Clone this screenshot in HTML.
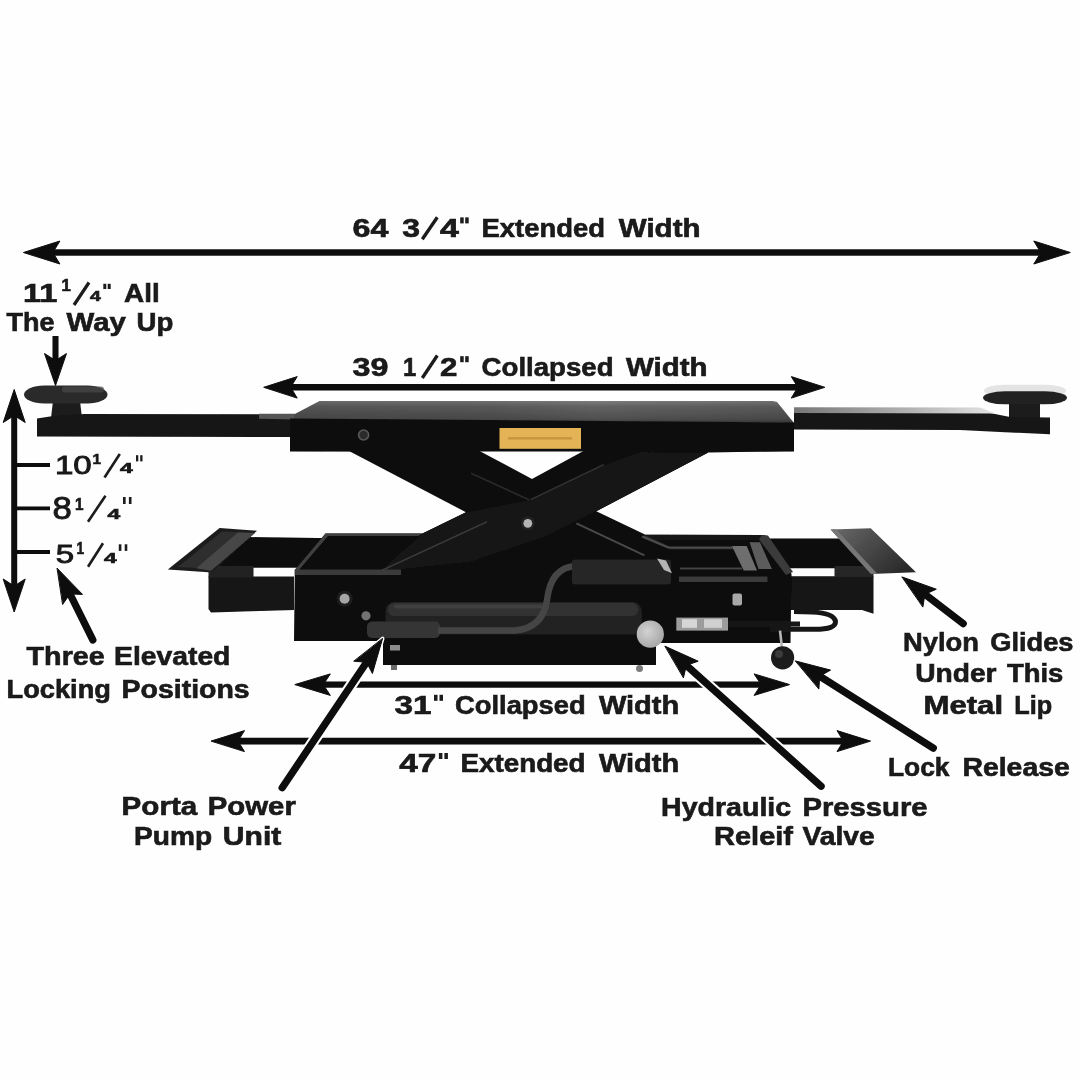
<!DOCTYPE html>
<html><head><meta charset="utf-8"><title>Rolling Jack Dimensions</title>
<style>
html,body{margin:0;padding:0;background:#fefefe;}
body{width:1080px;height:1080px;overflow:hidden;font-family:"Liberation Sans",sans-serif;}
svg{display:block}
svg text{font-family:"Liberation Sans",sans-serif;fill:#1a1a1a;stroke:#1a1a1a;}
svg text.b{font-weight:bold;stroke-width:0.65px;}
svg text.n{font-weight:normal;stroke-width:0.9px;}
</style></head><body>
<svg width="1080" height="1080" viewBox="0 0 1080 1080">
<defs>
<linearGradient id="ptop" x1="0" x2="0" y1="0" y2="1"><stop offset="0" stop-color="#7c7c7c"/><stop offset="0.25" stop-color="#626262"/><stop offset="0.8" stop-color="#505050"/><stop offset="1" stop-color="#3c3c3c"/></linearGradient><linearGradient id="ptoph" x1="0" x2="1" y1="0" y2="0"><stop offset="0" stop-color="#000" stop-opacity="0.14"/><stop offset="0.4" stop-color="#000" stop-opacity="0.1"/><stop offset="0.6" stop-color="#000" stop-opacity="0"/><stop offset="1" stop-color="#000" stop-opacity="0.1"/></linearGradient>
<linearGradient id="armhi" x1="0" x2="1" y1="0" y2="0"><stop offset="0" stop-color="#777"/><stop offset="0.6" stop-color="#b5b5b5"/><stop offset="1" stop-color="#e5e5e5"/></linearGradient>
<radialGradient id="knob" cx="0.4" cy="0.4" r="0.7"><stop offset="0" stop-color="#d2d2d2"/><stop offset="1" stop-color="#a2a2a2"/></radialGradient>
<linearGradient id="glide" x1="0" x2="1" y1="0" y2="0.6"><stop offset="0" stop-color="#6a6a6a"/><stop offset="0.5" stop-color="#4a4a4a"/><stop offset="1" stop-color="#2c2c2c"/></linearGradient>
<filter id="soft" x="0" y="0" width="1080" height="1080" filterUnits="userSpaceOnUse"><feGaussianBlur stdDeviation="0.75"/></filter>
</defs>
<rect width="1080" height="1080" fill="#fefefe"/>
<g filter="url(#soft)">
<g id="jack">
<!-- left pad + arm -->
<polygon points="53,401 80,401 82,418 51,418" fill="#1b1b1b"/>
<rect x="24" y="385.5" width="83.5" height="18" rx="20" ry="9" fill="#2b2b2b"/>
<rect x="62" y="386.5" width="42" height="6" rx="3" fill="#4a4a4a" opacity="0.7"/>
<polygon points="37,418.5 50,416.5 84,414 290,414.3 290,437 37,436.5" fill="#151515"/>
<polygon points="259,413.8 295,413.8 295,419.5 259,418.7" fill="#555"/>
<!-- right pad + arm -->
<polygon points="1009,401 1040,401 1040,419 1009,419" fill="#1a1a1a"/>
<rect x="984" y="384.8" width="82" height="12" rx="20" ry="6" fill="#e4e4e4"/>
<rect x="983" y="391.3" width="84" height="13" rx="22" ry="6.5" fill="#232323"/>
<polygon points="794,412.5 990,413 1010,417 1050,417.6 1050,434.3 1000,432 960,430 794,429.6" fill="#161616"/>
<polygon points="794,407.3 980,407.6 996,413.5 794,413" fill="url(#armhi)"/>
<!-- left beams & glide -->
<polygon points="247,537 318,538 330,538 330,567.8 214,567.8" fill="#0b0b0b"/>
<polygon points="208.5,576.6 294,576.6 294,610 211,612.4 208.5,609" fill="#131313"/>
<rect x="208.5" y="566" width="45" height="11.5" fill="#242424"/>
<polygon points="167.8,569.6 219.6,528 257,530.7 212,572.5" fill="#1c1c1c"/>
<polygon points="178,567 222,531.5 238,532.3 196,568" fill="#2f2f2f"/>
<polygon points="238,532.3 255,533 211,570.8 196,568.3" fill="#474747"/>
<!-- right beams & glide -->
<polygon points="768,538.5 840,538.5 867,568.3 768,568.3" fill="#0b0b0b"/>
<polygon points="788,576.3 873.5,576.3 873.5,613.7 862,610 788,610" fill="#141414"/>
<rect x="834.5" y="566" width="39" height="11" fill="#262626"/>
<polygon points="830.6,529.4 870.7,528.2 916,572.2 871,574" fill="url(#glide)"/>
<polygon points="830.6,529.4 836,529.2 877,573.5 871,574" fill="#777"/>
<!-- central mass -->
<polygon points="289.5,451 349.5,451.2 466,512.2 422.5,533.5 325.5,533.5 294.8,570 294,641 383,641 383,665 656,665 656,643 790.5,643 791.5,574 765,535 645.5,534.7 596.3,511.3 708.3,452.6 794,451" fill="#0d0d0d"/>
<polygon points="479.5,451 532,479 583.5,451" fill="#fefefe"/>
<!-- front scissor arm slightly lighter -->
<polygon points="466,512.2 530.5,499.5 600,466.4 640,452 708.3,452.6 596.3,511.3 545,537 470,562 379,571.7 422.5,533.5" fill="#131313"/>
<line x1="379" y1="571.7" x2="487" y2="521.7" stroke="#3a3a3a" stroke-width="1.6"/>
<line x1="530.5" y1="499.7" x2="604" y2="464.5" stroke="#303030" stroke-width="1.6"/>
<line x1="471" y1="473.3" x2="529" y2="499.7" stroke="#2c2c2c" stroke-width="1.6"/>
<line x1="576.4" y1="523.3" x2="644.4" y2="555.3" stroke="#4a4a4a" stroke-width="2"/>
<polyline points="644,536 671,548.3 744,548.3" fill="none" stroke="#333" stroke-width="2"/>
<!-- platform -->
<polygon points="319.5,401 773,401 777,402 794,423 294,419.5 294.4,414.3" fill="url(#ptop)"/><polygon points="319.5,401 773,401 777,402 794,423 294,419.5 294.4,414.3" fill="url(#ptoph)"/>

<polygon points="290,418.6 794,422.5 794,451.5 290,451.5" fill="#0c0c0c"/>
<rect x="499.5" y="428" width="81.5" height="20.8" fill="#e4b357"/>
<rect x="508" y="437" width="64" height="2.6" fill="#c48e3a" opacity="0.8"/>
<!-- tray edges -->
<polygon points="325.5,533.5 422.5,533.5 418,536 328,536 298,571 294.8,570" fill="#404040"/>
<polygon points="294.8,569.6 401,569.6 401,575 294.8,575" fill="#3a3a3a"/>
<polygon points="645.5,534.7 765,535 762,539.5 654,539.5" fill="#191919"/><polygon points="762,535 768,535.5 793,572 786,575 759,539.5" fill="#3a3a3a"/>
<polyline points="642,536.5 668,547.4 732,547.4" fill="none" stroke="#4c4c4c" stroke-width="2"/>
<polygon points="731.9,546 746.7,546 757,570.4 743.7,570.4" fill="#6e6e6e"/>
<polygon points="749.6,542.2 760,542.2 771.9,568.9 758.5,568.9" fill="#5c5c5c"/>
<line x1="680" y1="568.5" x2="742" y2="568.5" stroke="#444" stroke-width="2"/><rect x="679" y="576.5" width="88.5" height="5.5" fill="#3a3a3a"/>
<!-- pump details -->
<rect x="385.6" y="602" width="256" height="32.5" rx="9" fill="#242424"/>
<rect x="388" y="603" width="250" height="13" rx="6" fill="#333333"/>
<rect x="394" y="604.5" width="150" height="4" rx="2" fill="#444" opacity="0.8"/>
<rect x="367" y="621.5" width="73" height="16.5" rx="5" fill="#353535"/>
<path d="M438,630.5 L515,630.5 Q543,628 547,600 Q551,567 576,566 L600,566" fill="none" stroke="#444" stroke-width="6.5"/>
<rect x="572" y="559.4" width="99" height="25" rx="3" fill="#262626"/>
<polygon points="657,558.5 666,560.5 672,573.3 664,570" fill="#b5b5b5"/>
<circle cx="650.3" cy="634.2" r="13.6" fill="url(#knob)"/>
<rect x="676.3" y="617.6" width="51.7" height="13" fill="#9c9c9c"/>
<rect x="682" y="619.2" width="15" height="8.6" fill="#d6d6d6"/>
<rect x="704" y="619.2" width="18" height="8.6" fill="#d0d0d0"/>
<path d="M728,624 L800,624" fill="none" stroke="#191919" stroke-width="5"/>
<path d="M794,611.5 L812,612 Q834,613 835.5,621.5 Q836,629.3 815,629.3 L770,629.3" fill="none" stroke="#191919" stroke-width="5"/>
<line x1="780" y1="630.6" x2="782" y2="648" stroke="#b5b5b5" stroke-width="2.6"/>
<circle cx="782.6" cy="657.8" r="11.6" fill="#1c1c1c"/>
<circle cx="779" cy="654" r="4" fill="#3a3a3a"/>
<!-- bolts -->
<circle cx="363.6" cy="435" r="5" fill="#2a2a2a" stroke="#5a5a5a" stroke-width="1.6"/>
<circle cx="527.8" cy="523.3" r="7" fill="#222"/>
<circle cx="527.8" cy="523.3" r="4.4" fill="#b5b5b5"/>
<circle cx="344.6" cy="598.7" r="8" fill="#1f1f1f"/>
<circle cx="344.6" cy="598.7" r="5" fill="#a5a5a5"/>
<circle cx="366" cy="615.8" r="4.6" fill="#737373"/>
<rect x="732.5" y="593.5" width="9.5" height="12" rx="2" fill="#a8a8a8"/>
<rect x="390" y="645" width="10" height="5.5" fill="#8d8d8d"/>
<rect x="391" y="665" width="6" height="5" fill="#6a6a6a"/>
<circle cx="639.5" cy="668.5" r="3.5" fill="#7a7a7a"/>
</g>

<g fill="#0c0c0c" stroke="#0c0c0c"><polygon points="23.4,252.5 59.9,241.0 52.9,252.5 59.9,264.0"/><line x1="51.9" y1="252.5" x2="1041.8" y2="252.5" stroke-width="6.4"/><polygon points="1070.3,252.5 1033.8,264.0 1040.8,252.5 1033.8,241.0"/><polygon points="263.7,387.3 297.2,376.6 290.7,387.3 297.2,398.1"/><line x1="289.7" y1="387.3" x2="798.8" y2="387.3" stroke-width="6.5"/><polygon points="824.8,387.3 791.3,398.1 797.8,387.3 791.3,376.6"/><polygon points="294.8,684.6 330.3,673.9 323.3,684.6 330.3,695.4"/><line x1="322.3" y1="684.6" x2="762.1" y2="684.6" stroke-width="6.2"/><polygon points="789.6,684.6 754.1,695.4 761.1,684.6 754.1,673.9"/><polygon points="211.0,741.1 244.5,730.6 238.0,741.1 244.5,751.6"/><line x1="237.0" y1="741.1" x2="844.5" y2="741.1" stroke-width="6.8"/><polygon points="870.5,741.1 837.0,751.6 843.5,741.1 837.0,730.6"/><polygon points="14.2,389.5 25.2,422.5 14.2,415.5 3.2,422.5"/><line x1="14.2" y1="414.5" x2="14.2" y2="587.0" stroke-width="6.0"/><polygon points="14.2,612.0 3.2,579.0 14.2,586.0 25.2,579.0"/><line x1="55.5" y1="336.0" x2="55.5" y2="361.5" stroke-width="6.0"/><polygon points="55.5,385.5 44.5,353.5 55.5,360.5 66.5,353.5"/><line x1="14" y1="465" x2="50" y2="465" stroke-width="3.8"/><line x1="14" y1="508.3" x2="50" y2="508.3" stroke-width="3.8"/><line x1="14" y1="552" x2="50" y2="552" stroke-width="3.8"/></g>
<g fill="#fefefe" stroke="#fefefe" stroke-width="4" stroke-linejoin="round" class="halo"><line x1="92.8" y1="639.9" x2="69.5" y2="593.0" stroke-width="11.3"/><polygon points="57.3,568.4 82.5,594.4 70.0,593.9 62.8,604.2"/><line x1="282.2" y1="787.7" x2="367.1" y2="661.5" stroke-width="11.3"/><polygon points="382.5,638.7 372.4,673.5 366.6,662.3 354.1,661.2"/><line x1="821.1" y1="786.2" x2="685.7" y2="664.7" stroke-width="11.3"/><polygon points="665.2,646.3 698.2,661.2 686.4,665.3 683.5,677.5"/><line x1="933.3" y1="748.1" x2="818.8" y2="675.7" stroke-width="11.3"/><polygon points="795.6,661.0 830.6,670.1 819.7,676.2 818.9,688.7"/><line x1="963.2" y1="623.6" x2="924.1" y2="593.7" stroke-width="11.3"/><polygon points="902.2,577.0 936.3,589.2 924.9,594.3 922.9,606.7"/></g>
<g fill="#0c0c0c" stroke="#0c0c0c" stroke-linecap="round"><line x1="92.8" y1="639.9" x2="69.5" y2="593.0" stroke-width="7.3"/><polygon points="57.3,568.4 82.5,594.4 70.0,593.9 62.8,604.2"/><line x1="282.2" y1="787.7" x2="367.1" y2="661.5" stroke-width="7.3"/><polygon points="382.5,638.7 372.4,673.5 366.6,662.3 354.1,661.2"/><line x1="821.1" y1="786.2" x2="685.7" y2="664.7" stroke-width="7.3"/><polygon points="665.2,646.3 698.2,661.2 686.4,665.3 683.5,677.5"/><line x1="933.3" y1="748.1" x2="818.8" y2="675.7" stroke-width="7.3"/><polygon points="795.6,661.0 830.6,670.1 819.7,676.2 818.9,688.7"/><line x1="963.2" y1="623.6" x2="924.1" y2="593.7" stroke-width="7.3"/><polygon points="902.2,577.0 936.3,589.2 924.9,594.3 922.9,606.7"/></g>
<g><text class="b" x="352.5" y="236.7" font-size="26.5" textLength="35.9" lengthAdjust="spacingAndGlyphs">64</text>
<text class="b" x="402.2" y="236.7" font-size="26.5" textLength="17.8" lengthAdjust="spacingAndGlyphs">3</text>
<line x1="422.3" y1="239.3" x2="437.3" y2="217.2" stroke="#1a1a1a" stroke-width="3.3"/>
<text class="b" x="440.0" y="236.7" font-size="26.5" textLength="18.9" lengthAdjust="spacingAndGlyphs">4</text>
<rect x="460.2" y="217.4" width="3.5" height="6.0" fill="#1a1a1a"/><rect x="465.2" y="217.4" width="3.5" height="6.0" fill="#1a1a1a"/>
<text class="b" x="481.6" y="236.7" font-size="26.5" textLength="123.3" lengthAdjust="spacingAndGlyphs">Extended</text>
<text class="b" x="618.8" y="236.7" font-size="26.5" textLength="81.7" lengthAdjust="spacingAndGlyphs">Width</text>
<text class="b" x="352.5" y="375.6" font-size="26.5" textLength="35.9" lengthAdjust="spacingAndGlyphs">39</text>
<text class="b" x="403.0" y="375.6" font-size="26.5" textLength="13.3" lengthAdjust="spacingAndGlyphs">1</text>
<line x1="422.3" y1="378.0" x2="437.3" y2="355.5" stroke="#1a1a1a" stroke-width="3.3"/>
<text class="b" x="440.0" y="375.6" font-size="26.5" textLength="17.4" lengthAdjust="spacingAndGlyphs">2</text>
<rect x="460.2" y="356.2" width="3.5" height="6.0" fill="#1a1a1a"/><rect x="465.2" y="356.2" width="3.5" height="6.0" fill="#1a1a1a"/>
<text class="b" x="481.6" y="375.6" font-size="26.5" textLength="132.0" lengthAdjust="spacingAndGlyphs">Collapsed</text>
<text class="b" x="625.9" y="375.6" font-size="26.5" textLength="81.6" lengthAdjust="spacingAndGlyphs">Width</text>
<text class="b" x="394.4" y="714.0" font-size="26.5" textLength="37.0" lengthAdjust="spacingAndGlyphs">31</text>
<rect x="434.0" y="694.8" width="3.5" height="6.0" fill="#1a1a1a"/><rect x="439.5" y="694.8" width="3.5" height="6.0" fill="#1a1a1a"/>
<text class="b" x="455.1" y="714.0" font-size="26.5" textLength="130.5" lengthAdjust="spacingAndGlyphs">Collapsed</text>
<text class="b" x="598.9" y="714.0" font-size="26.5" textLength="80.4" lengthAdjust="spacingAndGlyphs">Width</text>
<text class="b" x="399.3" y="772.4" font-size="26.5" textLength="37.1" lengthAdjust="spacingAndGlyphs">47</text>
<rect x="438.9" y="753.0" width="3.5" height="6.0" fill="#1a1a1a"/><rect x="444.4" y="753.0" width="3.5" height="6.0" fill="#1a1a1a"/>
<text class="b" x="460.4" y="772.4" font-size="26.5" textLength="125.2" lengthAdjust="spacingAndGlyphs">Extended</text>
<text class="b" x="598.9" y="772.4" font-size="26.5" textLength="80.4" lengthAdjust="spacingAndGlyphs">Width</text>
<text class="b" x="22.9" y="301.6" font-size="26.5" textLength="34.3" lengthAdjust="spacingAndGlyphs">11</text>
<text class="b" x="61.6" y="291.4" font-size="16.0" textLength="9.3" lengthAdjust="spacingAndGlyphs">1</text>
<line x1="74.0" y1="305.0" x2="89.0" y2="282.5" stroke="#1a1a1a" stroke-width="3.2"/>
<text class="b" x="90.1" y="301.4" font-size="14.5" textLength="10.8" lengthAdjust="spacingAndGlyphs">4</text>
<rect x="103.3" y="283.8" width="3.0" height="5.2" fill="#1a1a1a"/><rect x="107.7" y="283.8" width="3.0" height="5.2" fill="#1a1a1a"/>
<text class="b" x="124.1" y="301.6" font-size="26.5" textLength="35.6" lengthAdjust="spacingAndGlyphs">All</text>
<text class="b" x="6.6" y="331.1" font-size="26.5" textLength="48.0" lengthAdjust="spacingAndGlyphs">The</text>
<text class="b" x="66.6" y="331.1" font-size="26.5" textLength="59.3" lengthAdjust="spacingAndGlyphs">Way</text>
<text class="b" x="136.6" y="331.1" font-size="26.5" textLength="36.8" lengthAdjust="spacingAndGlyphs">Up</text>
<text class="n" x="54.9" y="473.7" font-size="25.5" textLength="36.8" lengthAdjust="spacingAndGlyphs">10</text>
<text class="b" x="92.4" y="463.7" font-size="15.5" textLength="8.5" lengthAdjust="spacingAndGlyphs">1</text>
<line x1="104.5" y1="477.5" x2="119.8" y2="454.0" stroke="#1a1a1a" stroke-width="2.6"/>
<text class="b" x="119.9" y="472.9" font-size="14.5" textLength="12.7" lengthAdjust="spacingAndGlyphs">4</text>
<rect x="136.0" y="455.2" width="2.3" height="6.2" fill="#1a1a1a"/><rect x="140.2" y="455.2" width="2.3" height="6.2" fill="#1a1a1a"/>
<text class="n" x="52.4" y="518.7" font-size="31.0" textLength="19.3" lengthAdjust="spacingAndGlyphs">8</text>
<text class="b" x="74.9" y="509.6" font-size="16.0" textLength="8.5" lengthAdjust="spacingAndGlyphs">1</text>
<line x1="88.0" y1="521.7" x2="105.5" y2="495.8" stroke="#1a1a1a" stroke-width="2.6"/>
<text class="b" x="107.4" y="518.7" font-size="14.5" textLength="12.7" lengthAdjust="spacingAndGlyphs">4</text>
<rect x="123.0" y="497.0" width="2.6" height="7.0" fill="#1a1a1a"/><rect x="128.9" y="497.0" width="2.6" height="7.0" fill="#1a1a1a"/>
<text class="n" x="55.8" y="562.9" font-size="26.5" textLength="18.4" lengthAdjust="spacingAndGlyphs">5</text>
<text class="b" x="76.6" y="554.4" font-size="16.5" textLength="7.6" lengthAdjust="spacingAndGlyphs">1</text>
<line x1="88.0" y1="566.7" x2="103.0" y2="543.3" stroke="#1a1a1a" stroke-width="2.6"/>
<text class="b" x="104.1" y="562.9" font-size="14.5" textLength="12.6" lengthAdjust="spacingAndGlyphs">4</text>
<rect x="118.8" y="544.3" width="2.6" height="6.6" fill="#1a1a1a"/><rect x="124.7" y="544.3" width="2.6" height="6.6" fill="#1a1a1a"/>
<text class="b" x="26.6" y="665.4" font-size="26.5" textLength="78.1" lengthAdjust="spacingAndGlyphs">Three</text>
<text class="b" x="114.1" y="665.4" font-size="26.5" textLength="116.3" lengthAdjust="spacingAndGlyphs">Elevated</text>
<text class="b" x="6.6" y="698.4" font-size="26.5" textLength="104.3" lengthAdjust="spacingAndGlyphs">Locking</text>
<text class="b" x="121.6" y="698.4" font-size="26.5" textLength="128.1" lengthAdjust="spacingAndGlyphs">Positions</text>
<text class="b" x="121.6" y="815.4" font-size="26.5" textLength="75.6" lengthAdjust="spacingAndGlyphs">Porta</text>
<text class="b" x="207.8" y="815.4" font-size="26.5" textLength="88.0" lengthAdjust="spacingAndGlyphs">Power</text>
<text class="b" x="134.1" y="845.4" font-size="26.5" textLength="78.1" lengthAdjust="spacingAndGlyphs">Pump</text>
<text class="b" x="222.8" y="845.4" font-size="26.5" textLength="58.5" lengthAdjust="spacingAndGlyphs">Unit</text>
<text class="b" x="661.1" y="816.0" font-size="26.5" textLength="130.0" lengthAdjust="spacingAndGlyphs">Hydraulic</text>
<text class="b" x="802.4" y="816.0" font-size="26.5" textLength="125.2" lengthAdjust="spacingAndGlyphs">Pressure</text>
<text class="b" x="714.0" y="845.1" font-size="26.5" textLength="79.0" lengthAdjust="spacingAndGlyphs">Releif</text>
<text class="b" x="802.4" y="845.1" font-size="26.5" textLength="72.3" lengthAdjust="spacingAndGlyphs">Valve</text>
<text class="b" x="888.0" y="776.2" font-size="26.5" textLength="61.5" lengthAdjust="spacingAndGlyphs">Lock</text>
<text class="b" x="962.4" y="776.2" font-size="26.5" textLength="107.4" lengthAdjust="spacingAndGlyphs">Release</text>
<text class="b" x="903.1" y="651.1" font-size="26.5" textLength="75.9" lengthAdjust="spacingAndGlyphs">Nylon</text>
<text class="b" x="990.2" y="651.1" font-size="26.5" textLength="83.3" lengthAdjust="spacingAndGlyphs">Glides</text>
<text class="b" x="915.2" y="681.7" font-size="26.5" textLength="81.4" lengthAdjust="spacingAndGlyphs">Under</text>
<text class="b" x="1006.9" y="681.7" font-size="26.5" textLength="56.4" lengthAdjust="spacingAndGlyphs">This</text>
<text class="b" x="923.5" y="714.1" font-size="26.5" textLength="79.6" lengthAdjust="spacingAndGlyphs">Metal</text>
<text class="b" x="1014.3" y="714.1" font-size="26.5" textLength="37.9" lengthAdjust="spacingAndGlyphs">Lip</text></g>
</g>
</svg>
</body></html>
